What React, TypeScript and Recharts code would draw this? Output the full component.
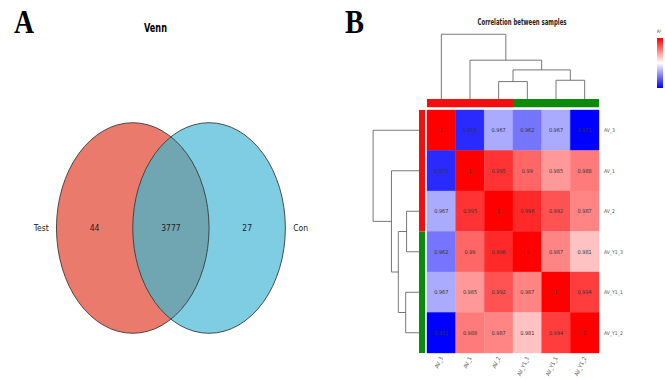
import React from 'react';
import { ScatterChart, Scatter, XAxis, YAxis, ReferenceArea, ReferenceLine } from 'recharts';

const NARROW = "'Liberation Sans Narrow', 'DejaVu Sans Condensed', 'Liberation Sans', Arial, sans-serif";

// ---- panel A: Venn ----
const vennSets = ['Test', 'Con'];
const vennCounts = [44, 3777, 27]; // Test only, shared, Con only
const vennColors = ['#e97a6c', '#7ecde2'];
const vennOverlapColor = '#70a6b1';

// ---- panel B: correlation heatmap ----
const samples = ['AV_3', 'AV_1', 'AV_2', 'AV_Y1_3', 'AV_Y1_1', 'AV_Y1_2'];
const sampleGroups = ['AV', 'AV', 'AV', 'AV_Y1', 'AV_Y1', 'AV_Y1'];
const corr = [
  [1, 0.955, 0.967, 0.962, 0.967, 0.951],
  [0.955, 1, 0.995, 0.99, 0.985, 0.988],
  [0.967, 0.995, 1, 0.996, 0.992, 0.987],
  [0.962, 0.99, 0.996, 1, 0.987, 0.981],
  [0.967, 0.985, 0.992, 0.987, 1, 0.994],
  [0.951, 0.988, 0.987, 0.981, 0.994, 1],
];
// clustering merges on the leaf order above (L = leaf, M = earlier merge), h = relative height
const merges = [
  { a: 'L2', b: 'L3', h: 0.27 },
  { a: 'L4', b: 'L5', h: 0.29 },
  { a: 'M0', b: 'M1', h: 0.45 },
  { a: 'L1', b: 'M2', h: 0.6 },
  { a: 'L0', b: 'M3', h: 1 },
];
const groupColors: Record<string, string> = { AV: '#f20f0f', AV_Y1: '#0b8a0b' };

// layout
const SEP = 1;
const RX = 1;
const RY = 1.38;
const DEND_SCALE = 1.6;
const TOP_BASE = -0.27;
const LEFT_BASE = -0.28;
const BAR_GAP = 0.07;

const cMin = Math.min(...corr.flat());
const cMax = 1;
const cMid = 0.975;

function corrColor(v: number) {
  if (v >= cMid) {
    const t = Math.min(1, (v - cMid) / (cMax - cMid));
    const g = Math.round(255 * (1 - t));
    return `rgb(255,${g},${g})`;
  }
  const t = Math.min(1, (cMid - v) / (cMid - cMin));
  const g = Math.round(255 * (1 - t));
  return `rgb(${g},${g},255)`;
}

function dendroSegments() {
  const nodes: { p: number; h: number }[] = [];
  const node = (id: string) =>
    id[0] === 'L' ? { p: Number(id.slice(1)) + 0.5, h: 0 } : nodes[Number(id.slice(1))];
  const segs: { p0: number; h0: number; p1: number; h1: number }[] = [];
  merges.forEach((m) => {
    const A = node(m.a);
    const B = node(m.b);
    segs.push({ p0: A.p, h0: A.h, p1: A.p, h1: m.h });
    segs.push({ p0: B.p, h0: B.h, p1: B.p, h1: m.h });
    segs.push({ p0: A.p, h0: m.h, p1: B.p, h1: m.h });
    nodes.push({ p: (A.p + B.p) / 2, h: m.h });
  });
  return segs;
}

// contiguous runs of the same group, so each colour bar is one block
function groupRuns() {
  const runs: { g: string; from: number; to: number }[] = [];
  sampleGroups.forEach((g, i) => {
    const last = runs[runs.length - 1];
    if (last && last.g === g) last.to = i + 1;
    else runs.push({ g, from: i, to: i + 1 });
  });
  return runs;
}

const ellipseFill = (fill: string) => (p: any) => (
  <ellipse
    cx={p.x + p.width / 2}
    cy={p.y + p.height / 2}
    rx={Math.abs(p.width) / 2}
    ry={Math.abs(p.height) / 2}
    fill={fill}
  />
);

// lens box spans [SEP/2 - RX, RX - SEP/2]
const lensShape = (p: any) => {
  const k = p.width / (2 * RX - SEP);
  const cy = p.y + p.height / 2;
  const ry = Math.abs(p.height) / 2;
  const cxL = p.x + (RX - SEP) * k;
  const cxR = p.x + RX * k;
  return (
    <g>
      <defs>
        <clipPath id="vennRightClip">
          <ellipse cx={cxR} cy={cy} rx={RX * k} ry={ry} />
        </clipPath>
      </defs>
      <ellipse cx={cxL} cy={cy} rx={RX * k} ry={ry} fill={vennOverlapColor} clipPath="url(#vennRightClip)" />
      <ellipse cx={cxL} cy={cy} rx={RX * k} ry={ry} fill="none" stroke="#3a3a3a" strokeWidth={0.9} />
      <ellipse cx={cxR} cy={cy} rx={RX * k} ry={ry} fill="none" stroke="#3a3a3a" strokeWidth={0.9} />
    </g>
  );
};

const vennLabels = [
  { x: -(SEP / 2 + RX + 0.2), y: 0, text: vennSets[0] },
  { x: -(SEP / 2 + RX / 2), y: 0, text: String(vennCounts[0]) },
  { x: 0, y: 0, text: String(vennCounts[1]) },
  { x: SEP / 2 + RX / 2, y: 0, text: String(vennCounts[2]) },
  { x: SEP / 2 + RX + 0.2, y: 0, text: vennSets[1] },
];

const TextShape = (props: any) => (
  <text
    x={props.cx}
    y={props.cy}
    textAnchor="middle"
    dominantBaseline="central"
    fontSize={8.5}
    fontFamily={NARROW}
    fill="#222"
  >
    {props.payload.text}
  </text>
);

const cellData = corr.flatMap((row, i) =>
  row.map((v, j) => ({ x: j + 0.5, y: i + 0.5, text: String(v) }))
);

const CellText = (props: any) => (
  <text
    x={props.cx}
    y={props.cy}
    textAnchor="middle"
    dominantBaseline="central"
    fontSize={5.5}
    fontFamily={NARROW}
    fill="#333"
  >
    {props.payload.text}
  </text>
);

const ColTick = (props: any) => {
  const { x, y, payload } = props;
  return (
    <text
      x={x}
      y={y}
      transform={`rotate(-65 ${x} ${y})`}
      textAnchor="end"
      dominantBaseline="central"
      fontSize={5.5}
      fontFamily={NARROW}
      fill="#555"
    >
      {samples[Math.floor(payload.value)]}
    </text>
  );
};

const centers = samples.map((_, i) => i + 0.5);

export default function App() {
  const segs = dendroSegments();
  const runs = groupRuns();
  return (
    <div style={{ position: 'fixed', left: 0, top: 0, width: 665, height: 380, background: '#fff', overflow: 'hidden' }}>
      <svg width={665} height={380} style={{ position: 'absolute', left: 0, top: 0 }}>
        <defs>
          <linearGradient id="rLegend" x1="0" y1="0" x2="0" y2="1">
            <stop offset="0%" stopColor="#ff0000" />
            <stop offset="50%" stopColor="#ffffff" />
            <stop offset="100%" stopColor="#0000ff" />
          </linearGradient>
        </defs>
        <text x={14} y={33} fontSize={33} fontWeight="bold" fontFamily="'Liberation Serif', serif" textLength={20} lengthAdjust="spacingAndGlyphs">A</text>
        <text x={345} y={33} fontSize={33} fontWeight="bold" fontFamily="'Liberation Serif', serif" textLength={19} lengthAdjust="spacingAndGlyphs">B</text>
        <text x={155.5} y={32} fontSize={13} fontWeight="bold" fontFamily={NARROW} textAnchor="middle" textLength={23} lengthAdjust="spacingAndGlyphs">Venn</text>
        <text x={522} y={25} fontSize={8} fontWeight="bold" fontFamily={NARROW} textAnchor="middle" textLength={89} lengthAdjust="spacingAndGlyphs" fill="#222">Correlation between samples</text>
        <text x={657} y={33} fontSize={4.5} fontFamily={NARROW} fill="#444">R²</text>
        <rect x={657} y={38} width={6} height={50} fill="url(#rLegend)" />
      </svg>

      <div style={{ position: 'absolute', left: 0, top: 0 }}>
        <ScatterChart width={330} height={380} margin={{ top: 0, right: 0, bottom: 0, left: 0 }}>
          <XAxis type="number" dataKey="x" domain={[-2.24, 2.085]} hide allowDataOverflow />
          <YAxis type="number" dataKey="y" domain={[-1.992, 2.988]} hide allowDataOverflow />
          <ReferenceArea x1={-SEP / 2 - RX} x2={-SEP / 2 + RX} y1={-RY} y2={RY} ifOverflow="visible" shape={ellipseFill(vennColors[0])} />
          <ReferenceArea x1={SEP / 2 - RX} x2={SEP / 2 + RX} y1={-RY} y2={RY} ifOverflow="visible" shape={ellipseFill(vennColors[1])} />
          <ReferenceArea x1={SEP / 2 - RX} x2={RX - SEP / 2} y1={-RY} y2={RY} ifOverflow="visible" shape={lensShape} />
          <Scatter data={vennLabels} shape={TextShape} isAnimationActive={false} />
        </ScatterChart>
      </div>

      <div style={{ position: 'absolute', left: 330, top: 0 }}>
        <ScatterChart width={335} height={380} margin={{ top: 110, right: 26, bottom: 0, left: 97 }}>
          <XAxis
            type="number"
            dataKey="x"
            domain={[0, samples.length]}
            ticks={centers}
            interval={0}
            tick={<ColTick />}
            tickLine={false}
            axisLine={false}
            tickSize={2}
            tickMargin={2}
            height={27}
            allowDataOverflow
          />
          <YAxis
            type="number"
            dataKey="y"
            domain={[0, samples.length]}
            reversed
            orientation="right"
            ticks={centers}
            interval={0}
            tickFormatter={(v: number) => samples[Math.floor(v)]}
            tick={{ fontSize: 5, fill: '#555', fontFamily: NARROW }}
            tickLine={false}
            axisLine={false}
            tickSize={3}
            tickMargin={2}
            width={40}
            allowDataOverflow
          />
          {corr.map((row, i) =>
            row.map((v, j) => (
              <ReferenceArea
                key={`c${i}-${j}`}
                x1={j}
                x2={j + 1}
                y1={i}
                y2={i + 1}
                ifOverflow="visible"
                fill={corrColor(v)}
                fillOpacity={1}
                stroke={corrColor(v)}
                strokeWidth={0.4}
              />
            ))
          )}
          {runs.map((r, i) => (
            <ReferenceArea
              key={`tb${i}`}
              x1={r.from}
              x2={r.to}
              y1={TOP_BASE}
              y2={-BAR_GAP}
              ifOverflow="visible"
              fill={groupColors[r.g]}
              fillOpacity={1}
              stroke="none"
            />
          ))}
          {runs.map((r, i) => (
            <ReferenceArea
              key={`lb${i}`}
              x1={LEFT_BASE}
              x2={-BAR_GAP}
              y1={r.from}
              y2={r.to}
              ifOverflow="visible"
              fill={groupColors[r.g]}
              fillOpacity={1}
              stroke="none"
            />
          ))}
          {segs.map((s, k) => (
            <ReferenceLine
              key={`td${k}`}
              segment={[
                { x: s.p0, y: TOP_BASE - s.h0 * DEND_SCALE },
                { x: s.p1, y: TOP_BASE - s.h1 * DEND_SCALE },
              ]}
              ifOverflow="visible"
              stroke="#555"
              strokeWidth={0.8}
            />
          ))}
          {segs.map((s, k) => (
            <ReferenceLine
              key={`ld${k}`}
              segment={[
                { x: LEFT_BASE - s.h0 * DEND_SCALE, y: s.p0 },
                { x: LEFT_BASE - s.h1 * DEND_SCALE, y: s.p1 },
              ]}
              ifOverflow="visible"
              stroke="#555"
              strokeWidth={0.8}
            />
          ))}
          <Scatter data={cellData} shape={CellText} isAnimationActive={false} />
        </ScatterChart>
      </div>
    </div>
  );
}
